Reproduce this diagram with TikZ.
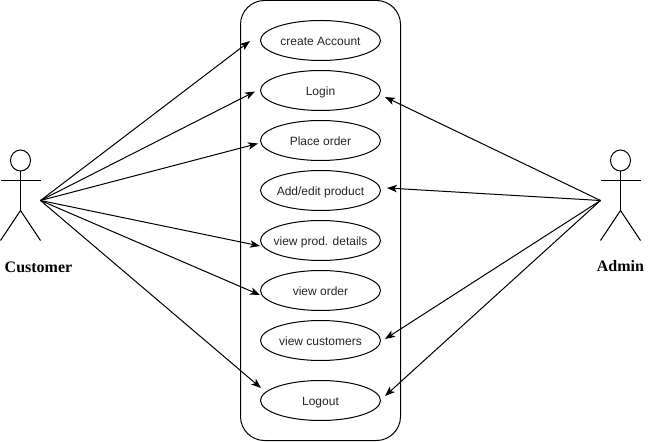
\documentclass[tikz,border=0pt]{standalone}
\usepackage{fontspec}
\setmainfont{Liberation Sans}
\newfontfamily\labelserif{Liberation Serif}
\usetikzlibrary{arrows.meta,shapes.geometric}
\newcommand{\uctext}[1]{\makebox[0pt][c]{#1}}
\tikzset{
  usecase/.style={draw=black,ellipse,line width=0.75pt,minimum width=90pt,minimum height=30pt,inner sep=0pt,text height=8pt,text depth=1.2pt,font=\fontsize{9pt}{11pt}\selectfont,text=black!85},
  actorlabel/.style={font=\labelserif\bfseries\fontsize{12pt}{14pt}\selectfont,inner sep=0pt},
  actorline/.style={draw=black,line width=0.75pt},
  assoc/.style={draw=black,line width=0.75pt,-{Stealth[length=7.5pt,width=5.6pt,inset=2pt]}}
}
\begin{document}
\begin{tikzpicture}[x=0.75pt,y=-0.75pt]
\useasboundingbox (0,0) rectangle (650,442);
\fill[white] (0,0) rectangle (650,442);
\draw[actorline,rounded corners=18pt] (240.5,0.5) rectangle (400.5,440.5);

\node[usecase] (create) at (320.5,40.5) {\uctext{create Account}};
\node[usecase] (login) at (320.5,90.5) {\uctext{Login}};
\node[usecase] (place) at (320.5,140.5) {\uctext{Place order}};
\node[usecase] (edit) at (320.5,190.5) {\uctext{Add/edit product}};
\node[usecase] (details) at (320.5,240.5) {\uctext{view prod. details}};
\node[usecase] (vorder) at (320.5,290.5) {\uctext{view order}};
\node[usecase] (vcust) at (320.5,340.5) {\uctext{view customers}};
\node[usecase] (logout) at (320.5,400.5) {\uctext{Logout}};

% Customer
\draw[actorline] (20.5,160.5) ellipse (10 and 10.5);
\draw[actorline] (0.5,180.5) -- (40.5,180.5);
\draw[actorline] (20.5,171) -- (20.5,210.5);
\draw[actorline] (0.5,240.5) -- (20.5,210.5) -- (40.5,240.5);
\node[actorlabel] (customer) at (38.5,267.5) {Customer};
\coordinate (cust) at (40.5,200.5);

% Admin
\draw[actorline] (620.5,160.5) ellipse (10 and 10.5);
\draw[actorline] (600.5,180.5) -- (640.5,180.5);
\draw[actorline] (620.5,171) -- (620.5,210.5);
\draw[actorline] (600.5,240.5) -- (620.5,210.5) -- (640.5,240.5);
\node[actorlabel] (admin) at (620.5,266) {Admin};
\coordinate (adm) at (600.5,200.5);

% Arrow tips
\coordinate (t1) at (250,41);
\coordinate (t2) at (255,91.5);
\coordinate (t3) at (258,143.5);
\coordinate (t4) at (260,246);
\coordinate (t5) at (260,295);
\coordinate (t6) at (261,388);
\coordinate (r1) at (385,97);
\coordinate (r2) at (387,188);
\coordinate (r3) at (385,339);
\coordinate (r4) at (385,396);

\foreach \t in {t1,t2,t3,t4,t5,t6} \draw[assoc] (cust) -- (\t);
\foreach \t in {r1,r2,r3,r4} \draw[assoc] (adm) -- (\t);
\end{tikzpicture}
\end{document}
